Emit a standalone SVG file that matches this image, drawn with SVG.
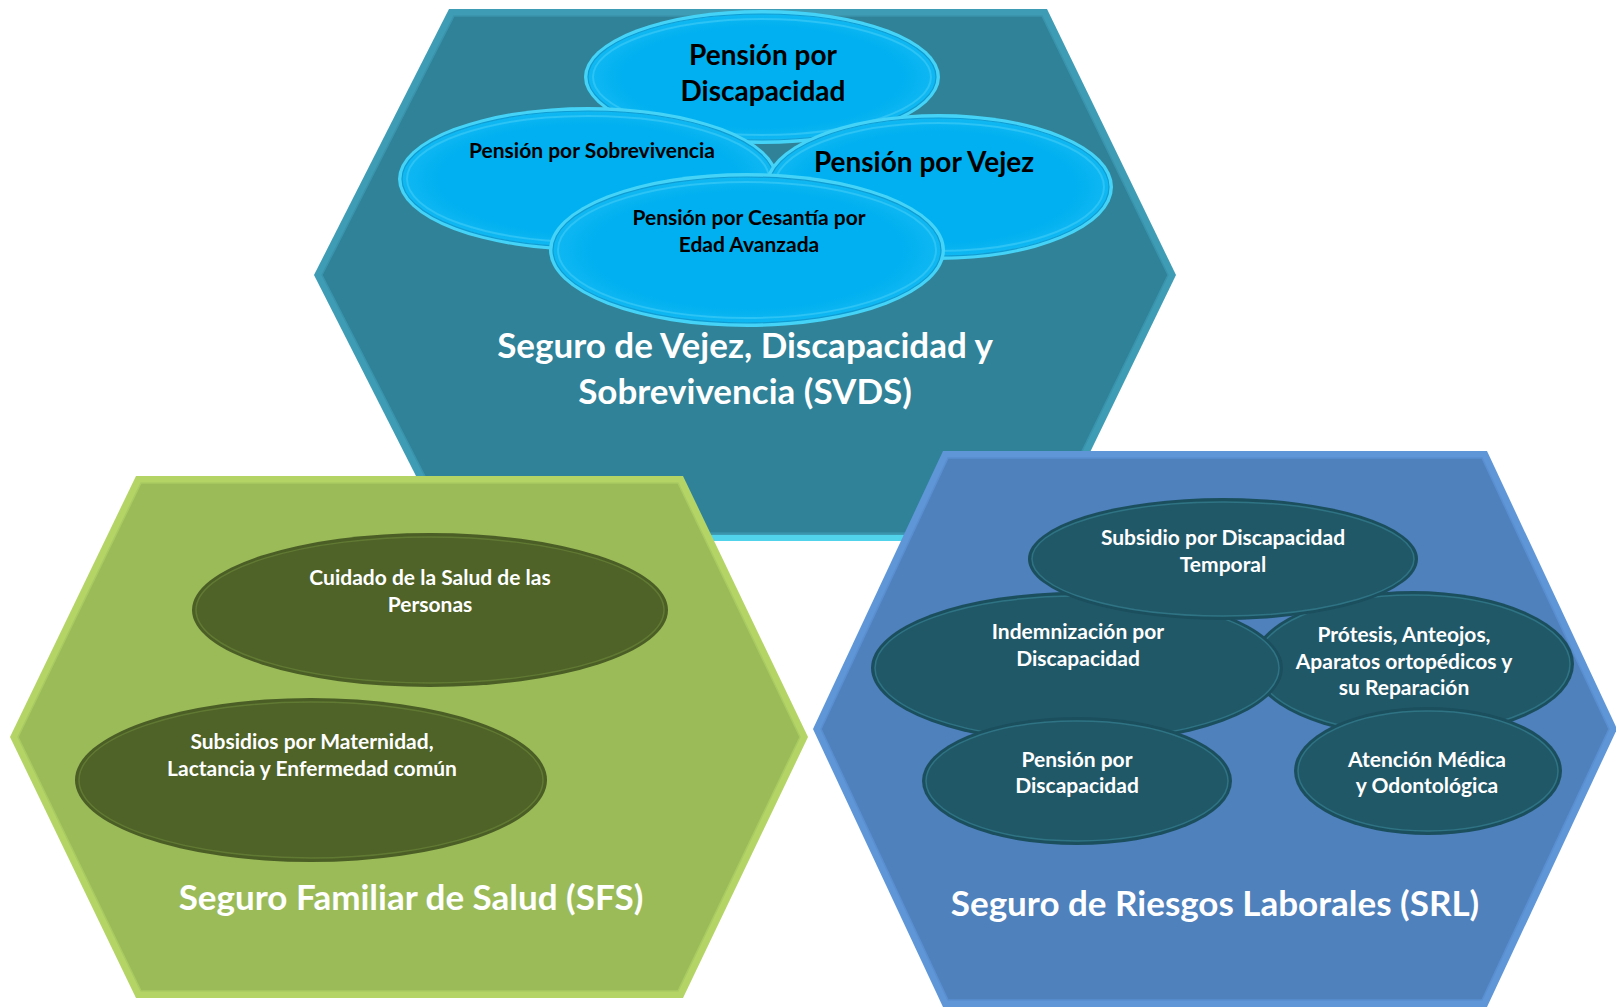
<svg xmlns="http://www.w3.org/2000/svg" width="1616" height="1007" viewBox="0 0 1616 1007">
<style>
  text { font-family: Lato, "Open Sans", "Liberation Sans", sans-serif; font-weight: bold; text-anchor: middle; }
  .blk { fill: #000000; }
  .wht { fill: #FFFFFF; }
  .title { font-size: 35px; fill: #FFFFFF; }
  .sm { font-size: 21px; }
  .big { font-size: 28px; }
</style>
<defs>
  <radialGradient id="gCyan" cx="0.5" cy="0.5" r="0.5">
    <stop offset="0.8" stop-color="#00B0F0"/>
    <stop offset="1" stop-color="#10B8F2"/>
  </radialGradient>
</defs>

<!-- SVDS hexagon -->
<g id="svds">
  <polygon points="449,9 1047,9 1176,275 1047,541 449,541 314,275" fill="#3E9CB5"/>
  <polygon points="449,535 1047,535 1049,541 447,541" fill="#52D3EC"/>
  <polygon points="454,16 1042,16 1168,275 1042,533 454,533 322,275" fill="#2F8298" stroke="#3A93AB" stroke-width="1.5"/>
  <g id="e-discapacidad">
    <ellipse cx="762" cy="77" rx="178" ry="67" fill="#45D4F8"/>
    <ellipse cx="762" cy="77" rx="174" ry="63" fill="url(#gCyan)" stroke="#0F9CD2" stroke-width="1.2"/>
    <ellipse cx="762" cy="77" rx="169" ry="58" fill="none" stroke="#2CC3F5" stroke-width="2"/>
    <text class="blk big" x="763" y="65">Pensión por</text>
    <text class="blk big" x="763" y="101">Discapacidad</text>
  </g>
  <g id="e-sobrevivencia">
    <ellipse cx="588" cy="179" rx="190" ry="72" fill="#45D4F8"/>
    <ellipse cx="588" cy="179" rx="186" ry="68" fill="url(#gCyan)" stroke="#0F9CD2" stroke-width="1.2"/>
    <ellipse cx="588" cy="179" rx="181" ry="63" fill="none" stroke="#2CC3F5" stroke-width="2"/>
    <text class="blk sm" x="592" y="158">Pensión por Sobrevivencia</text>
  </g>
  <g id="e-vejez">
    <ellipse cx="939" cy="187" rx="174" ry="73" fill="#45D4F8"/>
    <ellipse cx="939" cy="187" rx="170" ry="69" fill="url(#gCyan)" stroke="#0F9CD2" stroke-width="1.2"/>
    <ellipse cx="939" cy="187" rx="165" ry="64" fill="none" stroke="#2CC3F5" stroke-width="2"/>
    <text class="blk big" x="924" y="172">Pensión por Vejez</text>
  </g>
  <g id="e-cesantia">
    <ellipse cx="747" cy="250" rx="198" ry="77" fill="#45D4F8"/>
    <ellipse cx="747" cy="250" rx="194" ry="73" fill="url(#gCyan)" stroke="#0F9CD2" stroke-width="1.2"/>
    <ellipse cx="747" cy="250" rx="189" ry="68" fill="none" stroke="#2CC3F5" stroke-width="2"/>
    <text class="blk sm" x="749" y="225">Pensión por Cesantía por</text>
    <text class="blk sm" x="749" y="252">Edad Avanzada</text>
  </g>
  <text class="title" x="745" y="358">Seguro de Vejez, Discapacidad y</text>
  <text class="title" x="745" y="404">Sobrevivencia (SVDS)</text>
</g>

<!-- SFS hexagon -->
<g id="sfs">
  <polygon points="136,476 683,476 808,737 683,998 136,998 10,737" fill="#B4D566"/>
  <polygon points="141,483 678,483 800,737 678,991 141,991 18,737" fill="#9BBB59" stroke="#A9CA62" stroke-width="1.5"/>
  <g id="e-cuidado">
    <ellipse cx="430" cy="610" rx="238" ry="77" fill="#4A5E25"/>
    <ellipse cx="430" cy="610" rx="234" ry="73" fill="#4F6228" stroke="#617A33" stroke-width="1.5"/>
    <text class="wht sm" x="430" y="585">Cuidado de la Salud de las</text>
    <text class="wht sm" x="430" y="612">Personas</text>
  </g>
  <g id="e-subsidios">
    <ellipse cx="311" cy="780" rx="236" ry="82" fill="#4A5E25"/>
    <ellipse cx="311" cy="780" rx="232" ry="78" fill="#4F6228" stroke="#617A33" stroke-width="1.5"/>
    <text class="wht sm" x="312" y="749">Subsidios por Maternidad,</text>
    <text class="wht sm" x="312" y="776">Lactancia y Enfermedad común</text>
  </g>
  <text class="title" x="411" y="910">Seguro Familiar de Salud (SFS)</text>
</g>

<!-- SRL hexagon -->
<g id="srl">
  <polygon points="943,451 1487,451 1617,729 1487,1007 943,1007 813,729" fill="#5E96D8"/>
  <polygon points="948,458 1482,458 1609,729 1482,1000 948,1000 821,729" fill="#4F81BD" stroke="#5A8FCF" stroke-width="1.5"/>
  <g id="e-protesis">
    <ellipse cx="1413" cy="664" rx="161" ry="73" fill="#1B4F5E"/>
    <ellipse cx="1413" cy="664" rx="157" ry="69" fill="#215868" stroke="#2F7484" stroke-width="1.5"/>
    <text class="wht sm" x="1404" y="642">Prótesis, Anteojos,</text>
    <text class="wht sm" x="1404" y="669">Aparatos ortopédicos y</text>
    <text class="wht sm" x="1404" y="695">su Reparación</text>
  </g>
  <g id="e-indemnizacion">
    <ellipse cx="1077" cy="668" rx="206" ry="76" fill="#1B4F5E"/>
    <ellipse cx="1077" cy="668" rx="202" ry="72" fill="#215868" stroke="#2F7484" stroke-width="1.5"/>
    <text class="wht sm" x="1078" y="639">Indemnización por</text>
    <text class="wht sm" x="1078" y="666">Discapacidad</text>
  </g>
  <g id="e-subsidio">
    <ellipse cx="1223" cy="559" rx="195" ry="61" fill="#1B4F5E"/>
    <ellipse cx="1223" cy="559" rx="191" ry="57" fill="#215868" stroke="#2F7484" stroke-width="1.5"/>
    <text class="wht sm" x="1223" y="545">Subsidio por Discapacidad</text>
    <text class="wht sm" x="1223" y="572">Temporal</text>
  </g>
  <g id="e-pension">
    <ellipse cx="1077" cy="781" rx="155" ry="64" fill="#1B4F5E"/>
    <ellipse cx="1077" cy="781" rx="151" ry="60" fill="#215868" stroke="#2F7484" stroke-width="1.5"/>
    <text class="wht sm" x="1077" y="767">Pensión por</text>
    <text class="wht sm" x="1077" y="793">Discapacidad</text>
  </g>
  <g id="e-atencion">
    <ellipse cx="1428" cy="771" rx="134" ry="64" fill="#1B4F5E"/>
    <ellipse cx="1428" cy="771" rx="130" ry="60" fill="#215868" stroke="#2F7484" stroke-width="1.5"/>
    <text class="wht sm" x="1427" y="767">Atención Médica</text>
    <text class="wht sm" x="1427" y="793">y Odontológica</text>
  </g>
  <text class="title" x="1215" y="916">Seguro de Riesgos Laborales (SRL)</text>
</g>

<g id="connectors"></g>
</svg>
